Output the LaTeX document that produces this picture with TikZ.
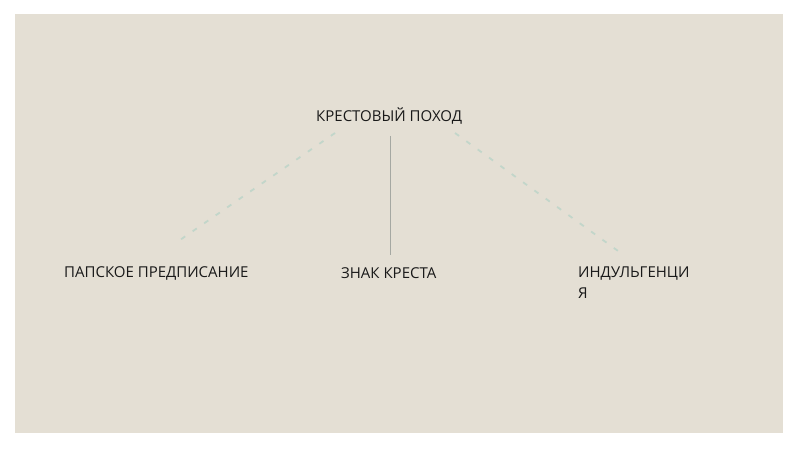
\documentclass[tikz,border=0pt]{standalone}
\usepackage{fontspec}
\setmainfont{Open Sans}
\definecolor{bgc}{HTML}{E4DFD4}
\definecolor{linec}{HTML}{A5A8A2}
\definecolor{dashc}{HTML}{C2D6CA}
\tikzset{
  lbl/.style={font=\fontsize{15}{21}\selectfont, text=black!90, inner sep=0pt, anchor=west, align=left},
  faint/.style={draw=dashc, line width=1.8pt, dash pattern=on 5pt off 9pt},
  solidc/.style={draw=linec, line width=1pt}
}
\begin{document}
\begin{tikzpicture}[x=1pt,y=-1pt]
\useasboundingbox (0,0) rectangle (800,449);
\fill[white] (0,0) rectangle (800,449);
\fill[bgc] (15,14) rectangle (783,433);
\node[lbl] (top) at (316,116) {КРЕСТОВЫЙ ПОХОД};
\node[lbl] (left) at (64,273) {ПАПСКОЕ ПРЕДПИСАНИЕ};
\node[lbl] (mid) at (341,273) {ЗНАК КРЕСТА};
\node[lbl, anchor=north west] (right) at (578,267) {ИНДУЛЬГЕНЦИ\\Я};
\coordinate (ts) at (390,136);
\coordinate (te) at (390,255);
\coordinate (ls) at (335,133);
\coordinate (le) at (180,240);
\coordinate (rs) at (455,133);
\coordinate (re) at (625,256);
\draw[solidc] (ts) -- (te);
\draw[faint] (ls) -- (le);
\draw[faint] (rs) -- (re);
\end{tikzpicture}
\end{document}
